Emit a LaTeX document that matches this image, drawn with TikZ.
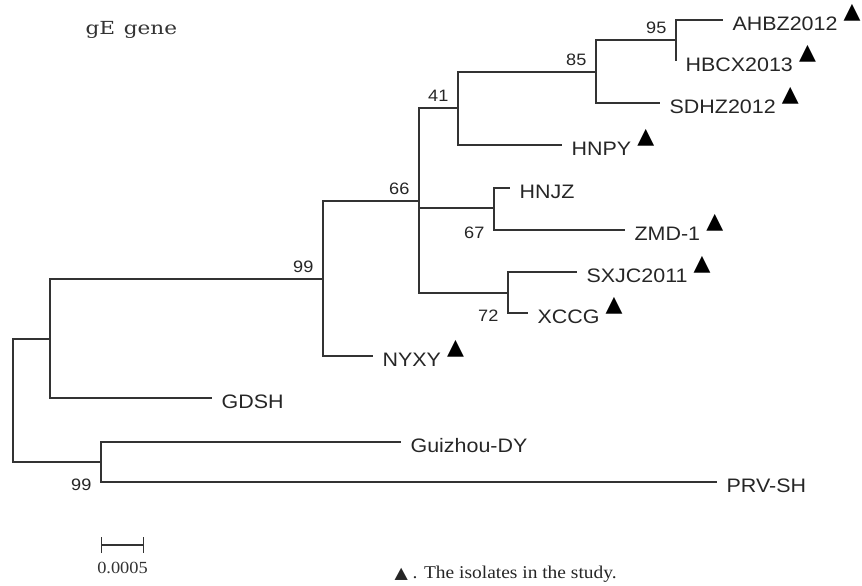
\documentclass[tikz,border=0pt]{standalone}
\usepackage{fontspec}
\setmainfont{Liberation Serif}
\setsansfont{Liberation Sans}
\newfontfamily\symfont{DejaVu Sans}
\newfontfamily\titlefont{DejaVu Serif}
\usetikzlibrary{arrows.meta}

\begin{document}
\begin{tikzpicture}[x=1pt, y=1pt, line width=1.1pt,
    branch/.style={draw=black!80, line width=1.1pt},
    leaf/.style={anchor=west, inner sep=0pt, text=black!85, xshift=9pt, yshift=-4pt, xscale=1.1,
                 font=\sffamily\fontsize{19.5}{20}\selectfont},
    bootfont/.style={inner sep=0pt, text=black!85, font=\sffamily\fontsize{16.5}{17}\selectfont},
    boot/.style={bootfont, anchor=south east, xshift=-9pt, yshift=6pt, xscale=1.1},
    bootlow/.style={bootfont, anchor=east, xshift=-9pt, yshift=-3pt, xscale=1.1},
    iso/.style={anchor=south west, inner sep=0pt, xshift=5pt, yshift=-5pt,
                font=\symfont\fontsize{22}{22}\selectfont}]

    \useasboundingbox (0,0) rectangle (862,-586);

    % === 内部节点坐标 ===
    \coordinate (R)   at (13,-400);
    \coordinate (N1)  at (50,-339);
    \coordinate (N2)  at (101,-462);
    \coordinate (N99) at (323,-279);
    \coordinate (N66) at (419,-201);
    \coordinate (N41) at (458,-108);
    \coordinate (N85) at (596,-72);
    \coordinate (N95) at (676,-40);
    \coordinate (N67) at (494,-208);
    \coordinate (N72) at (508,-293);

    % === 末端坐标 ===
    \coordinate (tAHBZ) at (723,-20);
    \coordinate (tHBCX) at (676,-61);
    \coordinate (tSDHZ) at (660,-103);
    \coordinate (tHNPY) at (562,-145);
    \coordinate (tHNJZ) at (510,-188);
    \coordinate (tZMD)  at (625,-230);
    \coordinate (tSXJC) at (577,-272);
    \coordinate (tXCCG) at (528,-313);
    \coordinate (tNYXY) at (373,-356);
    \coordinate (tGDSH) at (212,-398);
    \coordinate (tGZ)   at (401,-442);
    \coordinate (tPRV)  at (717,-482);

    % === 分支 ===
    \draw[branch] (R) |- (N1);
    \draw[branch] (R) |- (N2);
    \draw[branch] (N1) |- (N99);
    \draw[branch] (N1) |- (tGDSH);
    \draw[branch] (N99) |- (N66);
    \draw[branch] (N99) |- (tNYXY);
    \draw[branch] (N66) |- (N41);
    \draw[branch] (N66) |- (N67);
    \draw[branch] (N66) |- (N72);
    \draw[branch] (N41) |- (N85);
    \draw[branch] (N41) |- (tHNPY);
    \draw[branch] (N85) |- (N95);
    \draw[branch] (N85) |- (tSDHZ);
    \draw[branch] (N95) |- (tAHBZ);
    \draw[branch] (N95) -- (tHBCX);
    \draw[branch] (N67) |- (tHNJZ);
    \draw[branch] (N67) |- (tZMD);
    \draw[branch] (N72) |- (tSXJC);
    \draw[branch] (N72) |- (tXCCG);
    \draw[branch] (N2) |- (tGZ);
    \draw[branch] (N2) |- (tPRV);

    % === 毒株标注 ===
    \node[leaf] (lAHBZ) at (tAHBZ) {AHBZ2012};
    \node[leaf] (lHBCX) at (tHBCX) {HBCX2013};
    \node[leaf] (lSDHZ) at (tSDHZ) {SDHZ2012};
    \node[leaf] (lHNPY) at (tHNPY) {HNPY};
    \node[leaf] (lHNJZ) at (tHNJZ) {HNJZ};
    \node[leaf] (lZMD)  at (tZMD)  {ZMD-1};
    \node[leaf] (lSXJC) at (tSXJC) {SXJC2011};
    \node[leaf] (lXCCG) at (tXCCG) {XCCG};
    \node[leaf] (lNYXY) at (tNYXY) {NYXY};
    \node[leaf] (lGDSH) at (tGDSH) {GDSH};
    \node[leaf] (lGZ)   at (tGZ)   {Guizhou-DY};
    \node[leaf] (lPRV)  at (tPRV)  {PRV-SH};

    % === 本研究分离株 ===
    \node[iso] (iAHBZ) at (lAHBZ.north east) {▲};
    \node[iso] (iHBCX) at (lHBCX.north east) {▲};
    \node[iso] (iSDHZ) at (lSDHZ.north east) {▲};
    \node[iso] (iHNPY) at (lHNPY.north east) {▲};
    \node[iso] (iZMD)  at (lZMD.north east)  {▲};
    \node[iso] (iSXJC) at (lSXJC.north east) {▲};
    \node[iso] (iXCCG) at (lXCCG.north east) {▲};
    \node[iso] (iNYXY) at (lNYXY.north east) {▲};

    % === 自展值 ===
    \node[boot] (b95) at (N95) {95};
    \node[boot] (b85) at (N85) {85};
    \node[boot] (b41) at (N41) {41};
    \node[boot] (b66) at (N66) {66};
    \node[boot] (b99) at (N99) {99};
    \node[bootlow] (b67) at (N67 |- tZMD) {67};
    \node[bootlow] (b72) at (N72 |- tXCCG) {72};
    \node[bootlow] (b99b) at (N2 |- tPRV) {99};

    % === 标题、标尺与图例 ===
    \node[anchor=base west, inner sep=0pt, text=black!80, xscale=1.2,
          font=\titlefont\fontsize{18}{19}\selectfont] (title) at (85,-35) {gE\hspace{0.4em}gene};
    \coordinate (sbL) at (101,-545);
    \coordinate (sbR) at (144,-545);
    \draw[black!80, line width=1.1pt, {Bar[width=16pt]}-{Bar[width=16pt]}] (sbL) -- (sbR);
    \node[inner sep=0pt, text=black!80, xscale=1.08, font=\fontsize{17}{18}\selectfont]
          (sblab) at (122.5,-568) {0.0005};
    \node[anchor=west, inner sep=0pt, text=black!85, xscale=1.08, font=\fontsize{18}{19}\selectfont]
          (legend) at (394,-574) {{\symfont\fontsize{16}{16}\selectfont ▲} . The isolates in the study.};

\end{tikzpicture}
\end{document}
